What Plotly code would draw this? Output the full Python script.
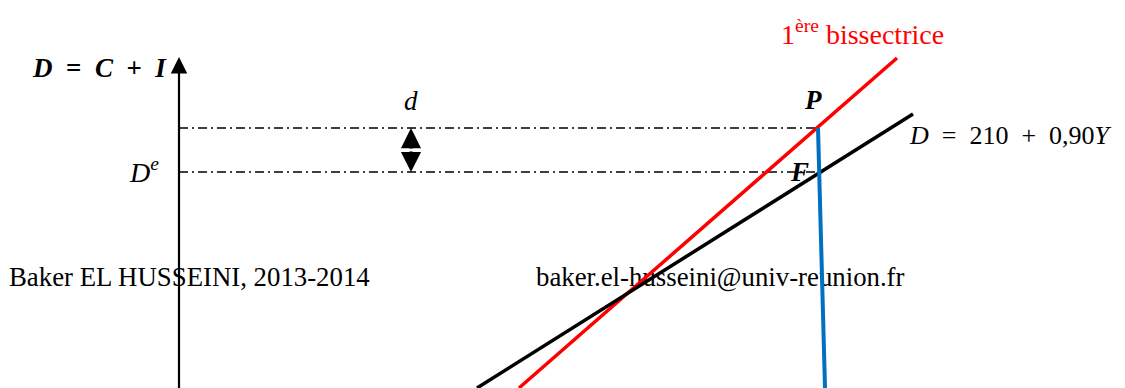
import plotly.graph_objects as go

# diagram coordinates (x: Y axis units, y: D axis units)
bis_x = [519, 897]          # 1ere bissectrice
bis_y = [0, 330]
dem_x = [477, 913]          # D = 210 + 0,90Y
dem_y = [0, 274]
gap_x = [818, 825]          # vertical segment from P
gap_y = [260, 0]
p_level = 260               # level of P
de_level = 216              # level of F (D^e)
axis_x = 179
axis_top = 331
arrow_x = 411

footer_text = ["Baker EL HUSSEINI, 2013-2014", "baker.el-husseini@univ-reunion.fr"]
footer_x = [9, 536]
footer_y = [109, 109]

serif = "Liberation Serif"
sp = "&nbsp;"
dashdot = "9px,4px,2px,4px"

fig = go.Figure()

# footer sits underneath the lines, as in the original
fig.add_trace(go.Scatter(x=footer_x, y=footer_y, mode="text", text=footer_text,
                         textposition="middle right",
                         textfont=dict(family=serif, size=26.8, color="black")))

# dash-dot guides
fig.add_trace(go.Scatter(x=[axis_x, gap_x[0]], y=[p_level, p_level], mode="lines",
                         line=dict(color="black", width=1.5, dash=dashdot)))
fig.add_trace(go.Scatter(x=[axis_x, 821], y=[de_level, de_level], mode="lines",
                         line=dict(color="black", width=1.5, dash=dashdot)))

fig.add_trace(go.Scatter(x=bis_x, y=bis_y, mode="lines", line=dict(color="#FF0000", width=3.5)))
fig.add_trace(go.Scatter(x=dem_x, y=dem_y, mode="lines", line=dict(color="black", width=3.5)))
fig.add_trace(go.Scatter(x=gap_x, y=gap_y, mode="lines", line=dict(color="#0070C0", width=4)))

# vertical axis with arrow
fig.add_annotation(x=axis_x, y=axis_top, ax=axis_x, ay=-10, xref="x", yref="y",
                   axref="x", ayref="y", showarrow=True, arrowhead=2, arrowsize=1.5,
                   arrowwidth=2.2, arrowcolor="black", text="")

# double arrow d
mid = (p_level + de_level) / 2
for tip in (p_level, de_level):
    fig.add_annotation(x=arrow_x, y=tip, ax=arrow_x, ay=mid, xref="x", yref="y",
                       axref="x", ayref="y", showarrow=True, arrowhead=2, arrowsize=1.15,
                       arrowwidth=3.5, arrowcolor="black", text="")

txt = dict(xref="x", yref="y", showarrow=False)
fig.add_annotation(x=99, y=320,
                   text=f"<b><i>D</i>{sp}{sp}={sp}{sp}<i>C</i>{sp}{sp}+{sp}{sp}<i>I</i></b>",
                   font=dict(family=serif, size=27, color="black"), **txt)
fig.add_annotation(x=161, y=218, xanchor="right", text="<i>D<sup>e</sup></i>",
                   font=dict(family=serif, size=28, color="black"), **txt)
fig.add_annotation(x=411, y=287, text="<i>d</i>",
                   font=dict(family=serif, size=27, color="black"), **txt)
fig.add_annotation(x=813, y=288, text="<b><i>P</i></b>",
                   font=dict(family=serif, size=27, color="black"), **txt)
fig.add_annotation(x=799, y=216, text="<b><i>F</i></b>",
                   font=dict(family=serif, size=27, color="black"), **txt)
fig.add_annotation(x=907, y=253, xanchor="left",
                   text=f"<i>D</i>{sp}{sp}={sp}{sp}210{sp}{sp}+{sp}{sp}0,90<i>Y</i>{sp}",
                   font=dict(family=serif, size=26, color="black"), **txt)
fig.add_annotation(x=862, y=356, text="1<sup>ère</sup> bissectrice",
                   font=dict(family=serif, size=28, color="#FF0000"), **txt)

# the page body adds an 8px offset, so shift the ranges to compensate
fig.update_layout(width=1125, height=388, margin=dict(l=0, r=0, t=0, b=0),
                  showlegend=False, plot_bgcolor="white", paper_bgcolor="white")
fig.update_xaxes(range=[8, 1133], visible=False)
fig.update_yaxes(range=[-8, 380], visible=False)

fig.write_html("out.html")
